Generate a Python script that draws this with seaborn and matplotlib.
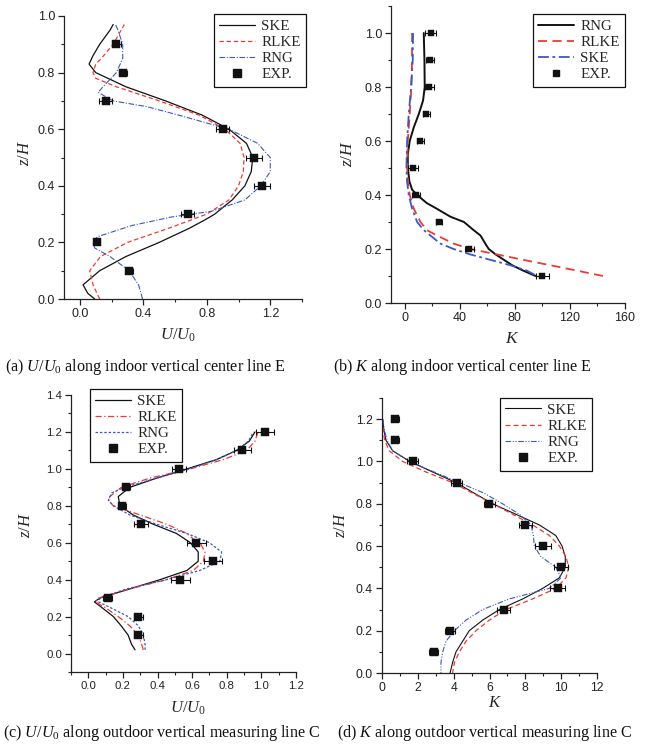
import matplotlib
matplotlib.use("Agg")
import matplotlib.pyplot as plt
from matplotlib.lines import Line2D
from matplotlib.ticker import MultipleLocator
import seaborn as sns

# ---------------- data ----------------
# (a) U/U0 along indoor vertical centre line E
a_ske_z = [0.0, 0.02, 0.05, 0.1, 0.15, 0.2, 0.25, 0.28, 0.3, 0.35, 0.4, 0.45, 0.5,
           0.55, 0.6, 0.65, 0.7, 0.75, 0.8, 0.83, 0.86, 0.9, 0.95, 0.97]
a_ske_u = [0.094, 0.05, 0.02, 0.125, 0.29, 0.5, 0.69, 0.79, 0.85, 0.96, 1.04, 1.08, 1.09,
           1.05, 0.94, 0.77, 0.54, 0.29, 0.10, 0.058, 0.083, 0.125, 0.19, 0.21]
a_rlke_z = [0.0, 0.05, 0.1, 0.15, 0.2, 0.25, 0.3, 0.35, 0.4, 0.45, 0.5, 0.55, 0.6,
            0.65, 0.7, 0.75, 0.78, 0.8, 0.83, 0.85, 0.9, 0.95, 0.97]
a_rlke_u = [0.125, 0.083, 0.062, 0.13, 0.30, 0.56, 0.80, 0.94, 1.0, 1.03, 1.035, 1.01, 0.915,
            0.75, 0.5, 0.23, 0.10, 0.083, 0.10, 0.135, 0.21, 0.26, 0.28]
a_rng_z = [0.0, 0.05, 0.1, 0.15, 0.18, 0.2, 0.22, 0.26, 0.29, 0.31, 0.35, 0.4, 0.45, 0.5,
           0.55, 0.6, 0.65, 0.68, 0.7, 0.73, 0.75, 0.8, 0.85, 0.9, 0.95, 0.97]
a_rng_u = [0.395, 0.37, 0.31, 0.19, 0.094, 0.083, 0.11, 0.33, 0.58, 0.83, 1.04, 1.14, 1.2, 1.2,
           1.12, 0.94, 0.62, 0.42, 0.21, 0.115, 0.146, 0.23, 0.27, 0.27, 0.24, 0.225]
a_exp_z = [0.9, 0.8, 0.7, 0.6, 0.5, 0.4, 0.3, 0.2, 0.1]
a_exp_u = [0.23, 0.272, 0.162, 0.90, 1.10, 1.15, 0.68, 0.108, 0.312]
a_exp_err = [0.028, 0.028, 0.04, 0.04, 0.05, 0.05, 0.04, 0.02, 0.023]

# (b) K along indoor vertical centre line E
b_rng_z = [1.0, 0.9, 0.8, 0.75, 0.7, 0.65, 0.6, 0.55, 0.5, 0.45, 0.42, 0.4, 0.37, 0.35,
           0.32, 0.3, 0.27, 0.25, 0.22, 0.2, 0.18, 0.16, 0.14, 0.12, 0.1]
b_rng_k = [13.8, 14.3, 14.5, 13.3, 10.2, 6.5, 3.6, 2.2, 2.2, 3.4, 5.3, 9.0, 16.0, 23.0,
           33.0, 43.0, 50.0, 55.0, 58.5, 61.0, 66.0, 72.0, 78.0, 86.0, 95.0]
b_rlke_z = [1.0, 0.9, 0.8, 0.7, 0.6, 0.5, 0.45, 0.4, 0.35, 0.3, 0.27, 0.25, 0.22, 0.2,
            0.18, 0.16, 0.14, 0.12, 0.1]
b_rlke_k = [5.3, 5.3, 4.8, 3.6, 2.2, 1.7, 2.2, 3.6, 6.5, 11.4, 16.0, 23.4, 35.5, 47.6,
            67.0, 86.0, 105.6, 125.0, 144.0]
b_ske_z = [1.0, 0.9, 0.8, 0.7, 0.6, 0.5, 0.45, 0.4, 0.35, 0.3, 0.27, 0.25, 0.22, 0.2,
           0.18, 0.16, 0.14, 0.12, 0.1]
b_ske_k = [6.0, 5.8, 4.6, 2.9, 1.7, 1.2, 1.7, 2.9, 5.3, 9.0, 13.8, 18.6, 25.9, 35.5,
           47.6, 62.0, 76.6, 88.7, 96.0]
b_exp_z = [1.0, 0.9, 0.8, 0.7, 0.6, 0.5, 0.4, 0.3, 0.2, 0.1]
b_exp_k = [19.0, 18.6, 17.9, 15.5, 11.4, 6.0, 8.0, 24.7, 47.0, 100.0]
b_exp_err = [4.0, 3.0, 3.0, 2.5, 2.5, 3.5, 3.0, 2.0, 3.5, 4.5]

# (c) U/U0 along outdoor vertical measuring line C
c_ske_z = [0.02, 0.05, 0.1, 0.15, 0.2, 0.25, 0.28, 0.3, 0.35, 0.4, 0.45, 0.5, 0.55, 0.6,
           0.65, 0.7, 0.75, 0.8, 0.85, 0.9, 0.95, 1.0, 1.05, 1.1, 1.15, 1.2]
c_ske_u = [0.27, 0.25, 0.23, 0.19, 0.145, 0.077, 0.035, 0.067, 0.24, 0.414, 0.57, 0.635,
           0.635, 0.59, 0.51, 0.376, 0.26, 0.183, 0.173, 0.24, 0.395, 0.57, 0.74, 0.857,
           0.93, 0.963]
c_rlke_z = [0.02, 0.05, 0.1, 0.15, 0.2, 0.25, 0.28, 0.3, 0.35, 0.4, 0.45, 0.5, 0.55, 0.6,
            0.62, 0.65, 0.7, 0.75, 0.8, 0.83, 0.85, 0.9, 0.95, 1.0, 1.05, 1.1, 1.15, 1.2]
c_rlke_u = [0.318, 0.308, 0.289, 0.24, 0.173, 0.096, 0.04, 0.058, 0.24, 0.45, 0.607, 0.665,
            0.674, 0.645, 0.607, 0.57, 0.453, 0.30, 0.145, 0.116, 0.125, 0.19, 0.356, 0.588,
            0.78, 0.915, 0.963, 0.98]
c_rng_z = [0.02, 0.05, 0.1, 0.15, 0.2, 0.25, 0.28, 0.3, 0.35, 0.4, 0.45, 0.5, 0.55, 0.6,
           0.65, 0.7, 0.75, 0.8, 0.83, 0.87, 0.9, 0.95, 1.0, 1.05, 1.1, 1.15, 1.2]
c_rng_u = [0.328, 0.328, 0.318, 0.289, 0.23, 0.125, 0.058, 0.067, 0.22, 0.453, 0.645, 0.76,
           0.77, 0.70, 0.57, 0.395, 0.24, 0.145, 0.116, 0.135, 0.21, 0.395, 0.588, 0.74,
           0.857, 0.925, 0.954]
c_exp_z = [1.2, 1.1, 1.0, 0.9, 0.8, 0.7, 0.6, 0.5, 0.4, 0.3, 0.2, 0.1]
c_exp_u = [1.02, 0.89, 0.524, 0.22, 0.197, 0.304, 0.624, 0.72, 0.53, 0.112, 0.289, 0.289]
c_exp_err = [0.05, 0.05, 0.04, 0.02, 0.02, 0.04, 0.055, 0.05, 0.055, 0.025, 0.025, 0.025]

# (d) K along outdoor vertical measuring line C
d_z = [1.2, 1.15, 1.1, 1.05, 1.0, 0.95, 0.9, 0.85, 0.8, 0.75, 0.7, 0.65, 0.6, 0.55, 0.5,
       0.45, 0.4, 0.35, 0.3, 0.25, 0.2, 0.15, 0.1, 0.05, 0.0]
d_ske_k = [0.04, 0.1, 0.22, 0.6, 1.56, 2.83, 4.13, 5.15, 6.18, 7.48, 8.78, 9.7, 10.05,
           10.23, 10.23, 9.9, 8.97, 7.85, 6.55, 5.62, 4.87, 4.5, 4.13, 3.94, 3.8]
d_rlke_k = [0.0, 0.07, 0.15, 0.41, 1.15, 2.46, 3.94, 5.06, 6.18, 7.3, 8.4, 9.34, 9.9,
            10.27, 10.42, 10.27, 9.71, 8.4, 6.92, 5.99, 5.25, 4.69, 4.32, 4.04, 3.94]
d_rng_k = [0.04, 0.13, 0.28, 0.6, 1.53, 2.92, 4.32, 5.7, 6.73, 7.67, 8.32, 8.45, 8.5,
           8.87, 9.71, 9.99, 9.34, 7.1, 5.62, 4.69, 4.04, 3.57, 3.39, 3.29, 3.29]
d_exp_z = [1.2, 1.1, 1.0, 0.9, 0.8, 0.7, 0.6, 0.5, 0.4, 0.3, 0.2, 0.1]
d_exp_k = [0.74, 0.74, 1.71, 4.17, 5.99, 8.0, 9.0, 10.0, 9.8, 6.79, 3.8, 2.88]
d_exp_err = [0.23, 0.23, 0.3, 0.3, 0.3, 0.35, 0.45, 0.4, 0.4, 0.35, 0.3, 0.25]

captions = [
    r"(a) $U/U_0$ along indoor vertical center line E",
    r"(b) $K$ along indoor vertical center line E",
    r"(c) $U/U_0$ along outdoor vertical measuring line C",
    r"(d) $K$ along outdoor vertical measuring line C",
]

# ---------------- style ----------------
sns.set_theme(style="ticks")
plt.rcParams.update({
    "font.family": ["Liberation Sans", "DejaVu Sans"],
    "mathtext.fontset": "custom",
    "mathtext.rm": "Liberation Serif",
    "mathtext.it": "Liberation Serif:italic",
    "mathtext.bf": "Liberation Serif:bold",
    "axes.linewidth": 0.9,
    "axes.edgecolor": "#222222",
    "xtick.color": "#222222",
    "ytick.color": "#222222",
    "xtick.direction": "out",
    "ytick.direction": "out",
    "xtick.major.size": 4,
    "ytick.major.size": 4,
    "xtick.minor.size": 2.5,
    "ytick.minor.size": 2.5,
    "xtick.major.width": 0.9,
    "ytick.major.width": 0.9,
    "xtick.minor.width": 0.8,
    "ytick.minor.width": 0.8,
    "xtick.minor.visible": True,
    "ytick.minor.visible": True,
})

BLACK = "#111111"
RED = "#ec3b32"
BLUE = "#3a58c4"
SERIF = "Liberation Serif"

W, H = 646, 750
fig = plt.figure(figsize=(W / 100, H / 100), dpi=100)


def px_axes(l, r, t, b):
    return fig.add_axes([l / W, 1 - b / H, (r - l) / W, (b - t) / H])


def curve(ax, x, y, color, ls, lw):
    sns.lineplot(x=x, y=y, ax=ax, sort=False, estimator=None, color=color,
                 linestyle=ls, linewidth=lw)


def exp_points(ax, x, y, err, size):
    ax.errorbar(x, y, xerr=err, fmt="none", ecolor=BLACK, elinewidth=0.8,
                capsize=2.2, capthick=0.8, zorder=4)
    sns.scatterplot(x=x, y=y, ax=ax, marker="s", s=size, color=BLACK,
                    edgecolor=BLACK, linewidth=0.3, zorder=5)


def finish(ax, xlim, ylim, xmaj, xmin, ymaj, ymin, xlabel, xl_pos, yl_pos, tick_fs, lab_fs):
    ax.set_xlim(*xlim)
    ax.set_ylim(*ylim)
    ax.xaxis.set_major_locator(MultipleLocator(xmaj))
    ax.xaxis.set_minor_locator(MultipleLocator(xmin))
    ax.yaxis.set_major_locator(MultipleLocator(ymaj))
    ax.yaxis.set_minor_locator(MultipleLocator(ymin))
    sns.despine(ax=ax)
    ax.tick_params(labelsize=tick_fs, pad=2.5)
    ax.set_xlabel(xlabel, fontsize=lab_fs)
    ax.set_ylabel(r"$z/H$", fontsize=lab_fs)
    ax.xaxis.label.set_va("center")
    ax.yaxis.label.set_va("center")
    ax.xaxis.set_label_coords(*xl_pos)
    ax.yaxis.set_label_coords(*yl_pos)
    ax.set_facecolor("white")


def legend(ax, handles, labels, anchor, loc):
    leg = ax.legend(handles, labels, loc=loc, bbox_to_anchor=(anchor[0] / W, 1 - anchor[1] / H),
                    bbox_transform=fig.transFigure, frameon=True, fancybox=False,
                    edgecolor=BLACK, framealpha=1, borderpad=0.35, labelspacing=0.18,
                    handlelength=2.4, handletextpad=0.4, borderaxespad=0,
                    prop={"family": SERIF, "size": 10.8})
    leg.get_frame().set_linewidth(0.9)


def h_line(color, ls, lw):
    return Line2D([], [], color=color, linestyle=ls, linewidth=lw)


def h_sq(ms):
    return Line2D([], [], color=BLACK, marker="s", linestyle="none", markersize=ms)


# ---------------- (a) ----------------
ax = px_axes(64, 302, 16, 299)
a_ls_r = (0, (3.5, 2.2))
a_ls_b = (0, (5, 1.5, 1, 1.5))
curve(ax, a_ske_u, a_ske_z, BLACK, "-", 0.9)
curve(ax, a_rlke_u, a_rlke_z, RED, a_ls_r, 0.9)
curve(ax, a_rng_u, a_rng_z, BLUE, a_ls_b, 0.8)
exp_points(ax, a_exp_u, a_exp_z, a_exp_err, 36)
finish(ax, (-0.1, 1.4), (0.0, 1.0), 0.4, 0.2, 0.2, 0.1, r"$U/U_0$",
       (0.48, -0.128), (-0.166, 0.516), 9.0, 12)
legend(ax, [h_line(BLACK, "-", 0.9), h_line(RED, a_ls_r, 0.9), h_line(BLUE, a_ls_b, 0.8), h_sq(6)],
       ["SKE", "RLKE", "RNG", "EXP."], (306, 14), "upper right")

# ---------------- (b) ----------------
ax = px_axes(391, 625, 6, 303)
b_ls_r = (0, (5, 3))
b_ls_b = (0, (6, 2, 1.5, 2))
curve(ax, b_rng_k, b_rng_z, BLACK, "-", 1.4)
curve(ax, b_rlke_k, b_rlke_z, RED, b_ls_r, 1.3)
curve(ax, b_ske_k, b_ske_z, BLUE, b_ls_b, 1.3)
exp_points(ax, b_exp_k, b_exp_z, b_exp_err, 20)
finish(ax, (-10, 160), (0.0, 1.1), 40, 20, 0.2, 0.1, r"$K$",
       (0.52, -0.118), (-0.184, 0.505), 9.0, 12.5)
legend(ax, [h_line(BLACK, "-", 1.4), h_line(RED, b_ls_r, 1.3), h_line(BLUE, b_ls_b, 1.3), h_sq(5)],
       ["RNG", "RLKE", "SKE", "EXP."], (625, 14), "upper right")

# ---------------- (c) ----------------
ax = px_axes(71, 296, 395, 672)
c_ls_r = (0, (5, 2, 1, 2))
c_ls_b = (0, (2, 1.5))
curve(ax, c_ske_u, c_ske_z, BLACK, "-", 0.9)
curve(ax, c_rlke_u, c_rlke_z, RED, c_ls_r, 0.9)
curve(ax, c_rng_u, c_rng_z, BLUE, c_ls_b, 0.9)
exp_points(ax, c_exp_u, c_exp_z, c_exp_err, 34)
finish(ax, (-0.1, 1.2), (-0.1, 1.4), 0.2, 0.1, 0.2, 0.1, r"$U/U_0$",
       (0.52, -0.13), (-0.204, 0.53), 8.2, 12)
legend(ax, [h_line(BLACK, "-", 0.9), h_line(RED, c_ls_r, 0.9), h_line(BLUE, c_ls_b, 0.9), h_sq(6)],
       ["SKE", "RLKE", "RNG", "EXP."], (90, 389), "upper left")

# ---------------- (d) ----------------
ax = px_axes(382, 597, 398, 673)
d_ls_r = (0, (4, 2.5))
d_ls_b = (0, (5, 1.5, 1, 1.5, 1, 1.5))
curve(ax, d_ske_k, d_z, BLACK, "-", 0.8)
curve(ax, d_rlke_k, d_z, RED, d_ls_r, 0.9)
curve(ax, d_rng_k, d_z, BLUE, d_ls_b, 0.8)
exp_points(ax, d_exp_k, d_exp_z, d_exp_err, 34)
finish(ax, (0, 12), (0.0, 1.3), 2, 1, 0.2, 0.1, r"$K$",
       (0.525, -0.109), (-0.195, 0.54), 8.7, 12)
legend(ax, [h_line(BLACK, "-", 0.8), h_line(RED, d_ls_r, 0.9), h_line(BLUE, d_ls_b, 0.8), h_sq(6)],
       ["SKE", "RLKE", "RNG", "EXP."], (500, 398), "upper left")

# ---------------- captions ----------------
cap_pos = [(5, 367), (333, 367), (3, 733), (337, 733)]
for (cx, cy), txt in zip(cap_pos, captions):
    fig.text(cx / W, 1 - cy / H, txt, ha="left", va="center", fontsize=11.6,
             family=SERIF, color=BLACK)

fig.savefig("out.png", dpi=100, facecolor="white")
